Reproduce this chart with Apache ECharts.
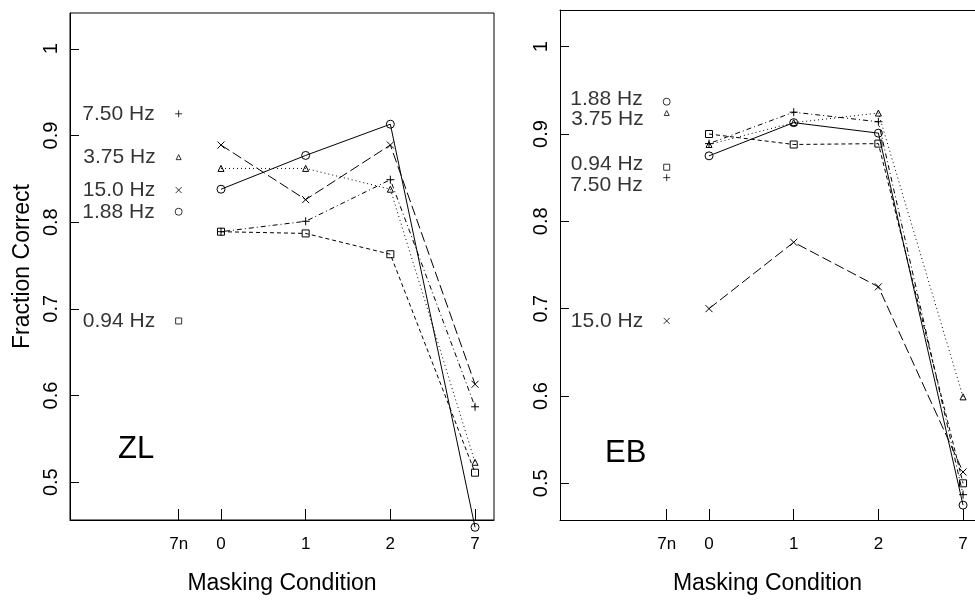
<!DOCTYPE html>
<html>
<head>
<meta charset="utf-8">
<script src="https://cdn.jsdelivr.net/npm/echarts@6/dist/echarts.min.js"></script>
<style>
  html, body { margin: 0; padding: 0; background: #fff; }
  #chart { width: 975px; height: 600px; }
</style>
</head>
<body>
<div id="chart"></div>
<script>
// masking conditions and where they sit on the x axis
var condLabels = ['7n', '0', '1', '2', '7'];
var condPos = [-0.5, 0, 1, 2, 3];
var dataPos = [0, 1, 2, 3];          // conditions 0, 1, 2, 7
var yTicks = [0.5, 0.6, 0.7, 0.8, 0.9, 1];

var freqs = ['0.94 Hz', '1.88 Hz', '3.75 Hz', '7.50 Hz', '15.0 Hz'];

// ZL: fraction correct at conditions 0, 1, 2, 7
var zl_094 = [0.789, 0.787, 0.763, 0.511];
var zl_188 = [0.838, 0.877, 0.913, 0.448];
var zl_375 = [0.862, 0.862, 0.838, 0.523];
var zl_750 = [0.789, 0.801, 0.849, 0.587];
var zl_150 = [0.889, 0.826, 0.889, 0.613];
// EB
var eb_094 = [0.900, 0.888, 0.889, 0.500];
var eb_188 = [0.875, 0.913, 0.901, 0.475];
var eb_375 = [0.888, 0.913, 0.924, 0.599];
var eb_750 = [0.889, 0.925, 0.914, 0.487];
var eb_150 = [0.700, 0.776, 0.725, 0.513];

// key marks drawn in the 7n column (same order as freqs)
var zl_key = [0.686, 0.812, 0.875, 0.925, 0.837];
var eb_key = [0.862, 0.937, 0.924, 0.850, 0.686];
// vertical nudge of the key text (px), EB labels are spread apart
var zl_keyShift = [0, 0, 0, 0, 0];
var eb_keyShift = [-3, -3, 6, 7, 0];

var plusPath = 'path://M5,0L5,10M0,5L10,5';
var crossPath = 'path://M0,0L10,10M0,10L10,0';
var symbols = ['rect', 'circle', 'triangle', plusPath, crossPath];
var symSizes = [7, 8, 6, 8, 7];
var dashes = [[4, 3], 'solid', [1, 3], [1, 3, 5, 3], [10, 4]];

var FONT = '"Liberation Sans", Arial, Helvetica, sans-serif';

var myChart = echarts.init(document.getElementById('chart'));

function pair(vals) {
  return vals.map(function (v, i) { return [dataPos[i], v]; });
}

function xAxisFor(gridIndex, min, max) {
  return {
    type: 'value', gridIndex: gridIndex, min: min, max: max,
    name: 'Masking Condition', nameLocation: 'middle', nameGap: 52,
    nameTextStyle: { fontFamily: FONT, fontSize: 23, color: '#000' },
    axisLine: { show: true, onZero: false, lineStyle: { color: '#000', width: 1 } },
    axisTick: { show: true, inside: true, length: 11, customValues: condPos, lineStyle: { color: '#000' } },
    axisLabel: {
      customValues: condPos, margin: 16, fontFamily: FONT, fontSize: 17, color: '#000',
      formatter: function (v) {
        var k = condPos.indexOf(v);
        return k >= 0 ? condLabels[k] : '';
      }
    },
    splitLine: { show: false }
  };
}

function yAxisFor(gridIndex, min, max, withName) {
  return {
    type: 'value', gridIndex: gridIndex, min: min, max: max,
    name: withName ? 'Fraction Correct' : '', nameLocation: 'middle', nameGap: 36,
    nameTextStyle: { fontFamily: FONT, fontSize: 23, color: '#000' },
    axisLine: { show: true, onZero: false, lineStyle: { color: '#000', width: 1 } },
    axisTick: { show: true, inside: true, length: 9, customValues: yTicks, lineStyle: { color: '#000' } },
    axisLabel: {
      customValues: yTicks, rotate: 90, margin: 9, fontFamily: FONT, fontSize: 20, color: '#000',
      formatter: function (v) { return v === 1 ? '1' : v.toFixed(1); }
    },
    splitLine: { show: false }
  };
}

function panelSeries(idx, sets, keys, shifts) {
  var out = [];
  sets.forEach(function (vals, i) {
    out.push({
      type: 'line', xAxisIndex: idx, yAxisIndex: idx, clip: false,
      data: pair(vals),
      symbol: symbols[i], symbolSize: symSizes[i],
      lineStyle: { color: '#000', width: 1, type: dashes[i] },
      itemStyle: { color: 'none', borderColor: '#000', borderWidth: 1 },
      animation: false, silent: true
    });
  });
  out.push({
    type: 'scatter', xAxisIndex: idx, yAxisIndex: idx, clip: false,
    data: keys.map(function (v, i) {
      var s = symSizes[i] - 1;
      return {
        value: [condPos[0], v], name: freqs[i], symbol: symbols[i], symbolSize: s,
        label: { position: [-18, s / 2 + 3 + shifts[i]] }
      };
    }),
    itemStyle: { color: 'none', borderColor: '#000', borderWidth: 1 },
    label: {
      show: true, formatter: '{b}', align: 'right', verticalAlign: 'middle',
      fontFamily: FONT, fontSize: 21, color: '#000'
    },
    labelLayout: { hideOverlap: false },
    animation: false, silent: true
  });
  return out;
}

var option = {
  backgroundColor: '#fff',
  animation: false,
  grid: [
    { left: 70, top: 13, width: 424, height: 510, show: true, borderColor: '#000', borderWidth: 1, containLabel: false },
    { left: 560, top: 10, right: 0, height: 514, show: false, containLabel: false }
  ],
  xAxis: [
    xAxisFor(0, -1.783, 3.224),
    xAxisFor(1, -1.76, 3.141),
    { // top frame line of the EB panel (its right side runs off the page)
      type: 'value', gridIndex: 1, position: 'top', min: -1.76, max: 3.141,
      axisLine: { show: true, onZero: false, lineStyle: { color: '#000', width: 1 } },
      axisTick: { show: false }, axisLabel: { show: false }, splitLine: { show: false }
    }
  ],
  yAxis: [yAxisFor(0, 0.4564, 1.0413, true), yAxisFor(1, 0.458, 1.042, false)],
  graphic: [
    { type: 'text', left: 118, top: 434, style: { text: 'ZL', fontFamily: FONT, fontSize: 31, fill: '#000' } },
    { type: 'text', left: 605, top: 438, style: { text: 'EB', fontFamily: FONT, fontSize: 31, fill: '#000' } }
  ],
  series: panelSeries(0, [zl_094, zl_188, zl_375, zl_750, zl_150], zl_key, zl_keyShift)
    .concat(panelSeries(1, [eb_094, eb_188, eb_375, eb_750, eb_150], eb_key, eb_keyShift))
};

myChart.setOption(option);
</script>
</body>
</html>
